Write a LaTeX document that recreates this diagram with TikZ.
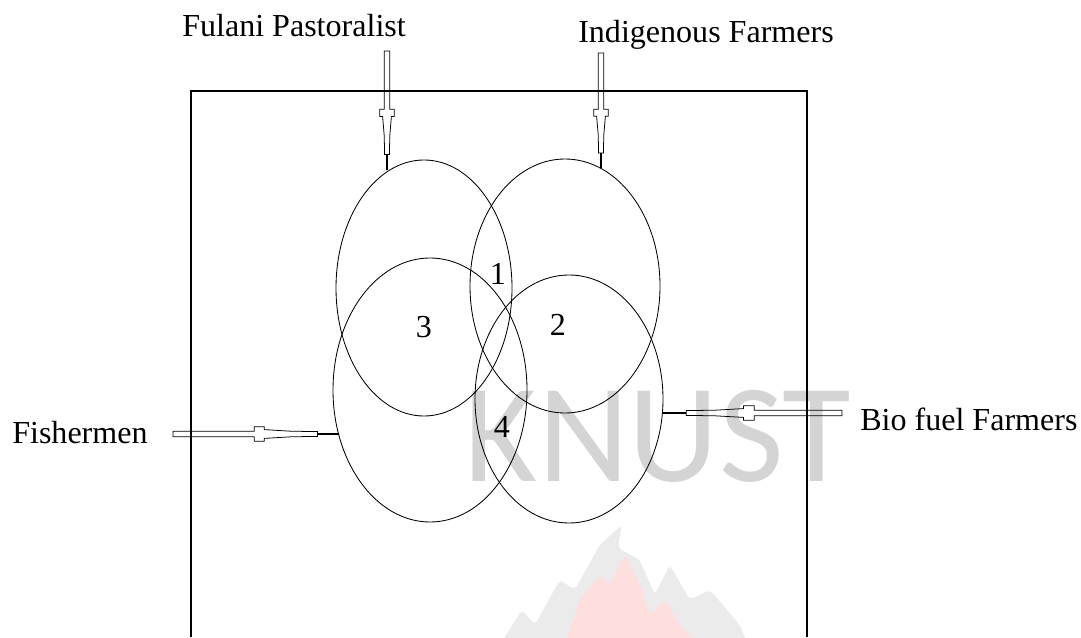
\documentclass[tikz,border=0pt]{standalone}
\usepackage{fontspec}
\setmainfont{Liberation Serif}
\newfontfamily\markfont{Carlito}
\usetikzlibrary{shapes.geometric,calc}

% point on a feeder arrow: fraction from tip, offset across
\newcommand{\feedpt}[2]{($(\tikztotarget)!#1!(\tikztostart)!#2!90:(\tikztotarget)$)}

\tikzset{
  groupset/.style={shape=ellipse, draw, line width=0.6pt, inner sep=0pt},
  grouptext/.style={inner sep=0pt, anchor=base west, font=\fontsize{22.8}{26}\selectfont},
  regiontext/.style={inner sep=0pt, font=\fontsize{22.8}{26}\selectfont},
  feeder/.style={draw, line width=0.55pt, to path={
    \feedpt{1}{0.07cm} -- \feedpt{0.51}{0.07cm} -- \feedpt{0.51}{0.18cm} -- \feedpt{0.45}{0.18cm}
    -- \feedpt{0.45}{0.11cm} -- \feedpt{0.29}{0.07cm} -- \feedpt{0.13}{0.06cm} -- \feedpt{0.13}{0.012cm}
    -- \feedpt{0.002}{0.012cm} -- \feedpt{0.002}{-0.012cm} -- \feedpt{0.13}{-0.012cm} -- \feedpt{0.13}{-0.06cm}
    -- \feedpt{0.29}{-0.07cm} -- \feedpt{0.45}{-0.11cm} -- \feedpt{0.45}{-0.18cm} -- \feedpt{0.51}{-0.18cm}
    -- \feedpt{0.51}{-0.07cm} -- \feedpt{1}{-0.07cm} -- cycle}}
}

\begin{document}
\begin{tikzpicture}
	\useasboundingbox (0,0) rectangle (27.025,15.925);
	\clip (0,0) rectangle (27.025,15.925);

	% Watermark
	\node[inner sep=0pt, text=black!17, font=\markfont\fontsize{100}{100}\selectfont] (knust) at (16.45,5.01) {KNUST};
	\begin{scope}[shift={(0,15.925)}, x=0.025cm, y=-0.025cm]
		\fill[black!8, rounded corners=3pt] (500,645) -- (522,610) -- (535,625) -- (560,580) -- (575,590) -- (600,545) -- (622,525) -- (618,548) -- (640,560) -- (655,595) -- (670,565) -- (690,600) -- (710,590) -- (740,625) -- (748,645) -- cycle;
		\fill[red!13, rounded corners=3pt] (565,645) -- (580,600) -- (600,575) -- (610,585) -- (625,555) -- (640,585) -- (650,615) -- (665,600) -- (680,625) -- (700,645) -- cycle;
	\end{scope}

	% Area
	\draw[line width=0.9pt] (4.775,0) -- (4.775,13.65) -- (20.175,13.65) -- (20.175,0);

	% Groups
	\node[groupset, minimum width=4.4cm, minimum height=6.4cm] (fulaniset) at (10.6, 8.725){};
	\node[groupset, minimum width=4.85cm, minimum height=6.6cm] (fisherset) at (10.75, 6.175){};
	\node[groupset, minimum width=4.75cm, minimum height=6.35cm] (indigenousset) at (14.125, 8.775){};
	\node[groupset, minimum width=4.7cm, minimum height=6.2cm] (biofuelset) at (14.225, 5.95){};

	% Overlaps
	\node[regiontext] (r1) at (12.45, 9.07){1};
	\node[regiontext] (r2) at (13.95, 7.8){2};
	\node[regiontext] (r3) at (10.6, 7.75){3};
	\node[regiontext] (r4) at (12.55, 5.25){4};

	% Users
	\node[grouptext] (fulani) at (4.55, 15){Fulani Pastoralist};
	\node[grouptext] (indigenous) at (14.45, 14.85){Indigenous Farmers};
	\node[grouptext] (fishermen) at (0.3, 4.85){Fishermen};
	\node[grouptext] (biofuel) at (21.5, 5.175){Bio fuel Farmers};

	\coordinate (fulani-tail) at (9.675, 14.65);
	\coordinate (fulani-tip) at (9.675, 11.675);
	\coordinate (indigenous-tail) at (15.025, 14.6);
	\coordinate (indigenous-tip) at (15.025, 11.725);
	\coordinate (fishermen-tail) at (4.325, 5.075);
	\coordinate (fishermen-tip) at (8.475, 5.075);
	\coordinate (biofuel-tail) at (21.05, 5.6);
	\coordinate (biofuel-tip) at (16.575, 5.6);

	\draw[feeder] (fulani-tail) to (fulani-tip);
	\draw[feeder] (indigenous-tail) to (indigenous-tip);
	\draw[feeder] (fishermen-tail) to (fishermen-tip);
	\draw[feeder] (biofuel-tail) to (biofuel-tip);
\end{tikzpicture}
\end{document}
